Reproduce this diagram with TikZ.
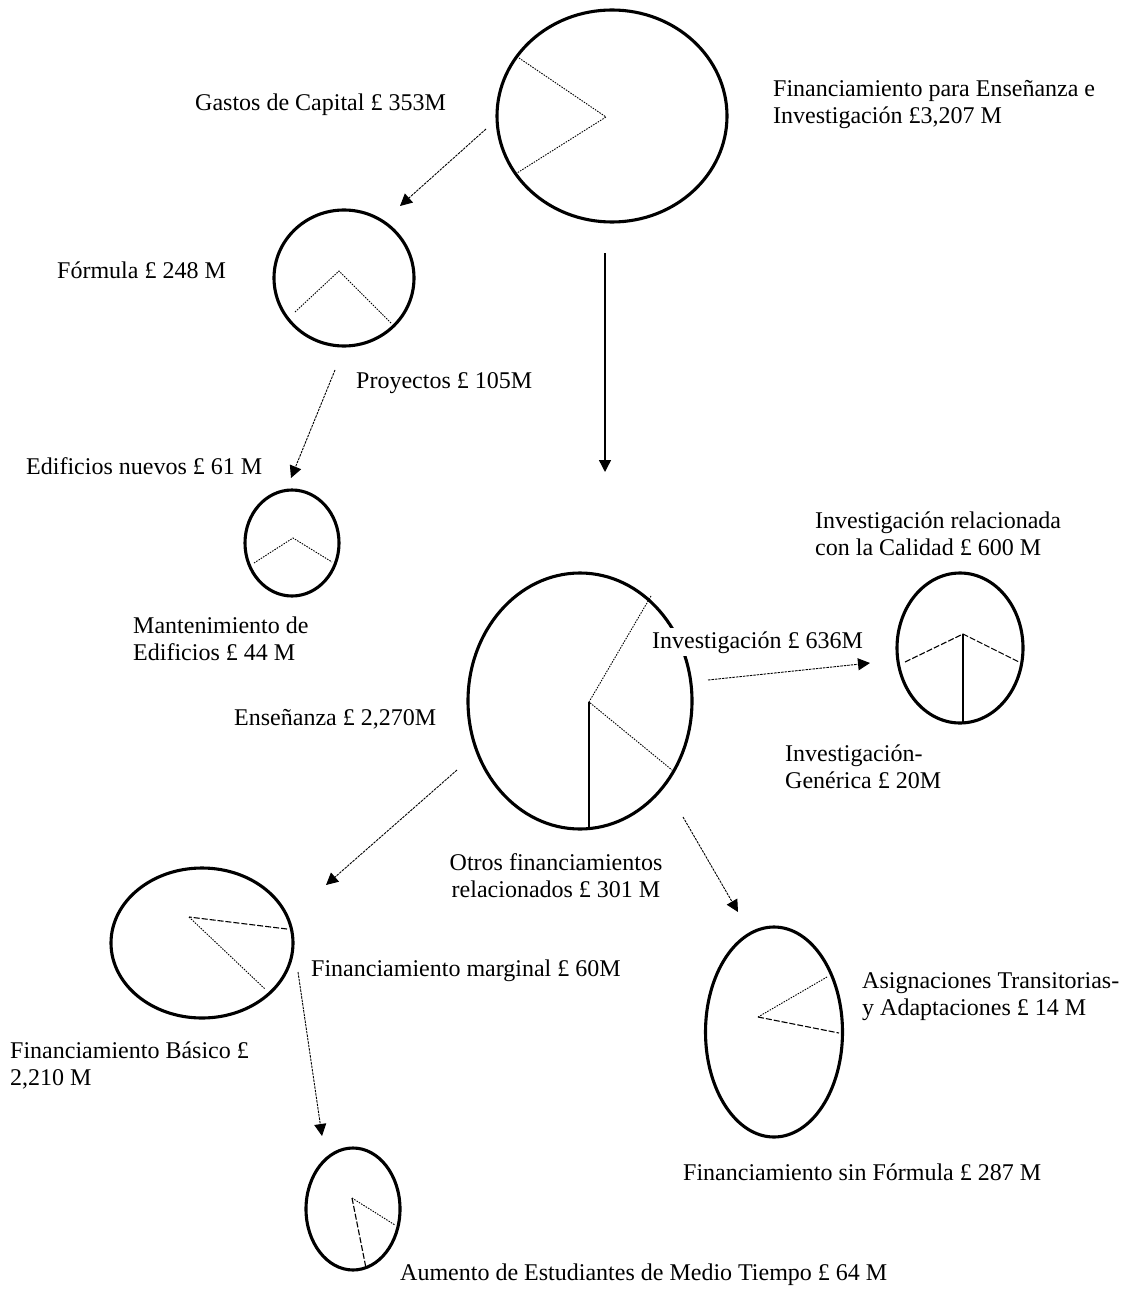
\documentclass[tikz,border=0pt]{standalone}
\usepackage{fontspec}
\setmainfont{Liberation Serif}
\usetikzlibrary{shapes.geometric,arrows.meta}
\begin{document}
\begin{tikzpicture}[x=1pt,y=-1pt,
  ring/.style={draw,ellipse,line width=3.1pt,inner sep=0pt},
  lbl/.style={inner sep=0pt,font=\fontsize{24}{27}\selectfont},
  mlbl/.style={lbl,align=left,anchor=north west},
  dotl/.style={line width=0.9pt,dash pattern=on 1.5pt off 1.2pt},
  dashl/.style={line width=1.1pt,dash pattern=on 6pt off 2pt},
  soll/.style={line width=1.2pt},
  arr/.style={line width=0.9pt,dash pattern=on 2.5pt off 1pt,-{Triangle[length=12pt,width=12pt]}},
  arrs/.style={line width=1.4pt,-{Triangle[length=12pt,width=12pt]}}]
\useasboundingbox[fill=white] (0,0) rectangle (1130,1289);

% ellipses
\node[ring,minimum width=230pt,minimum height=212pt] (top) at (612,116) {};
\node[ring,minimum width=140pt,minimum height=136pt] (formula) at (344,278) {};
\node[ring,minimum width=94pt,minimum height=106pt] (edif) at (292,543) {};
\node[ring,minimum width=224pt,minimum height=256pt] (ens) at (580,701) {};
\node[ring,minimum width=126pt,minimum height=150pt] (inv) at (960,648) {};
\node[ring,minimum width=182pt,minimum height=150pt] (basico) at (202,943) {};
\node[ring,minimum width=137pt,minimum height=210pt] (sinf) at (774,1032) {};
\node[ring,minimum width=94pt,minimum height=122pt] (aum) at (353,1209) {};

% pie lines
\draw[dotl] (519,58) -- (606,117) -- (517,173);
\draw[dotl] (295,312) -- (339,271) -- (391,323);
\draw[dotl] (254,563) -- (293,538) -- (332,562);
\draw[dotl] (651,596) -- (589,702) -- (672,770);
\draw[soll] (589,702) -- (589,829);
\draw[dashl] (905,662) -- (963,634) -- (1019,662);
\draw[soll] (963,634) -- (963,722);
\draw[dashl] (287,929) -- (189,917);
\draw[dotl] (189,917) -- (265,989);
\draw[dotl] (827,977) -- (758,1017);
\draw[dashl] (758,1017) -- (839,1033);
\draw[dotl] (352,1198) -- (395,1225);
\draw[dashl] (352,1198) -- (366,1268);

% arrow end points
\coordinate (a1s) at (486,129); \coordinate (a1e) at (400,206);
\coordinate (a2s) at (605,253); \coordinate (a2e) at (605,472);
\coordinate (a3s) at (335,370); \coordinate (a3e) at (291,478);
\coordinate (a4s) at (708,680); \coordinate (a4e) at (870,663);
\coordinate (a5s) at (457,770); \coordinate (a5e) at (326,885);
\coordinate (a6s) at (683,817); \coordinate (a6e) at (738,912);
\coordinate (a7s) at (298,972); \coordinate (a7e) at (322,1136);
\draw[arr] (a1s) -- (a1e);
\draw[arrs] (a2s) -- (a2e);
\draw[arr] (a3s) -- (a3e);
\draw[arr] (a4s) -- (a4e);
\draw[arr] (a5s) -- (a5e);
\draw[arr] (a6s) -- (a6e);
\draw[arr] (a7s) -- (a7e);

% labels
\node[lbl,anchor=base west] (l1) at (195,111) {Gastos de Capital £ 353M};
\node[mlbl] (l2) at (773,80) {Financiamiento para Enseñanza e\\Investigación £3,207 M};
\node[lbl,anchor=base west] (l3) at (57,278) {Fórmula £ 248 M};
\node[lbl,anchor=base west] (l4) at (356,388) {Proyectos £ 105M};
\node[lbl,anchor=base west] (l5) at (26,474) {Edificios nuevos £ 61 M};
\node[mlbl] (l6) at (133,617) {Mantenimiento de\\Edificios £ 44 M};
\node[mlbl] (l7) at (815,512) {Investigación relacionada\\con la Calidad £ 600 M};
\node[lbl,anchor=base west,fill=white,inner ysep=3pt] (l8) at (652,648) {Investigación £ 636M};
\node[lbl,anchor=base west] (l9) at (234,725) {Enseñanza £ 2,270M};
\node[mlbl] (l10) at (785,745) {Investigación-\\Genérica £ 20M};
\node[lbl,align=center,anchor=north] (l11) at (556,853) {Otros financiamientos\\relacionados £ 301 M};
\node[lbl,anchor=base west] (l12) at (311,976) {Financiamiento marginal £ 60M};
\node[mlbl] (l13) at (862,972) {Asignaciones Transitorias-\\y Adaptaciones £ 14 M};
\node[mlbl] (l14) at (10,1042) {Financiamiento Básico £\\2,210 M};
\node[lbl,anchor=base west] (l15) at (683,1180) {Financiamiento sin Fórmula £ 287 M};
\node[lbl,anchor=base west] (l16) at (400,1280) {Aumento de Estudiantes de Medio Tiempo £ 64 M};
\end{tikzpicture}
\end{document}
